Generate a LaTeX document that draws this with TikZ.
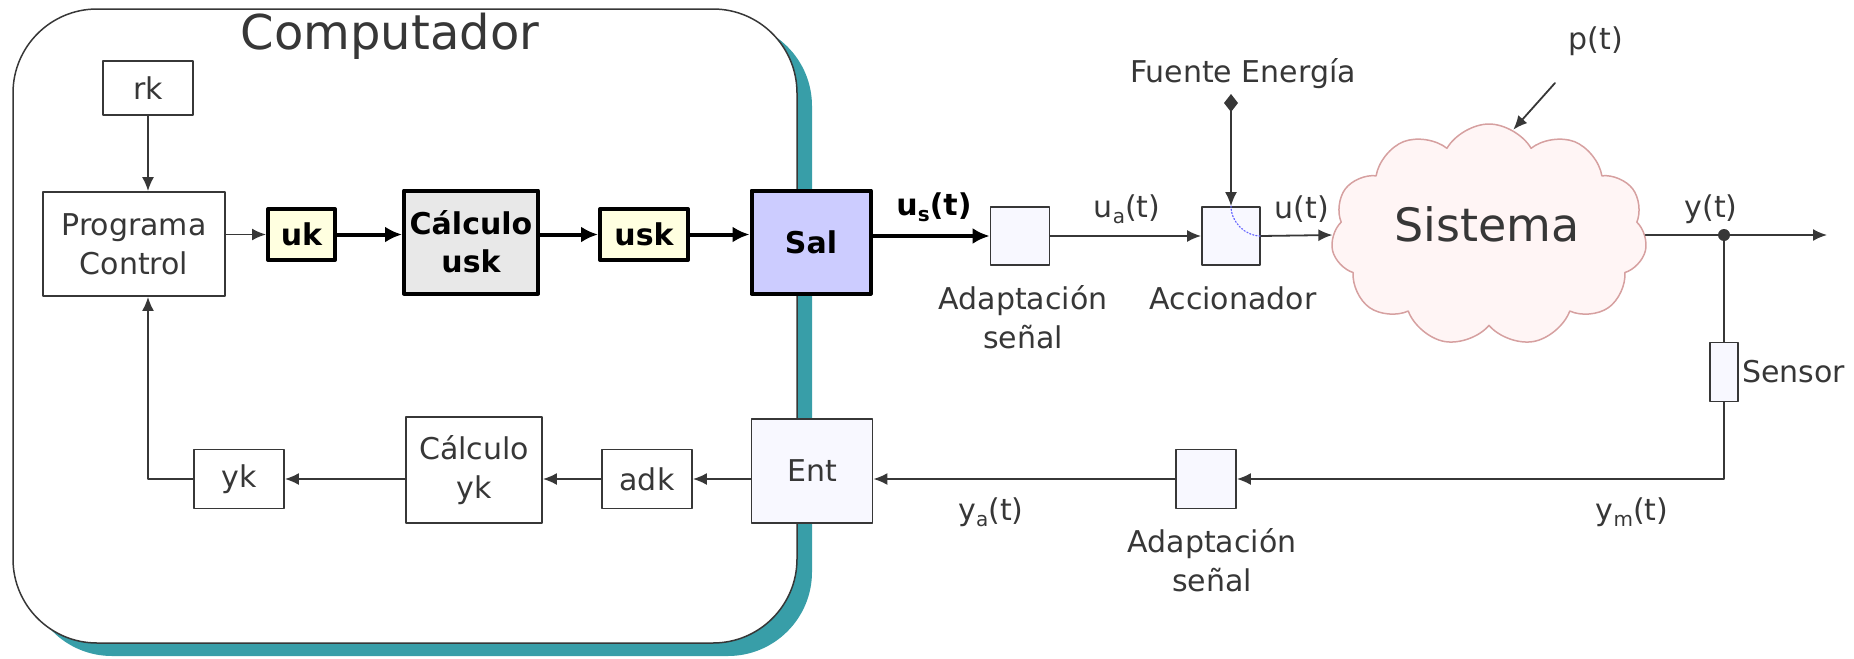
\documentclass[tikz,border=0pt]{standalone}
\usepackage{fontspec}
\setmainfont{DejaVu Sans}
\usepackage{tikz}
\usetikzlibrary{arrows.meta, positioning, shapes, shapes.symbols, calc, shadows}
\definecolor{TealShadow}{RGB}{56, 158, 168}
\definecolor{BoxYellow}{RGB}{255, 255, 224}
\definecolor{BoxGray}{RGB}{232, 232, 232}
\definecolor{BoxLavender}{RGB}{204, 204, 255}
\definecolor{BoxPale}{RGB}{248, 248, 255}
\definecolor{CloudFill}{RGB}{255, 245, 245}
\definecolor{CloudLine}{RGB}{214, 160, 160}
\definecolor{LineGray}{RGB}{55, 55, 55}
\newcommand{\lowidx}[1]{\raisebox{-0.35ex}{\fontsize{10}{10}\selectfont #1}}
\tikzset{every node/.style={font=\fontsize{15}{19.5}\selectfont, text=LineGray}, every path/.style={line cap=round, line join=round}, >={Latex[length=7pt, width=6pt]}}
\tikzset{
    compbox/.style={draw=LineGray, line width=0.75pt, fill=white, rounded corners=42pt,
        drop shadow={shadow xshift=7.5pt, shadow yshift=-6.5pt, fill=TealShadow, opacity=1}},
    thinbox/.style={draw=LineGray, line width=0.9pt, fill=white, align=center, inner sep=0pt},
    palebox/.style={thinbox, fill=BoxPale},
    boldbox/.style={draw=black, line width=2pt, align=center, inner sep=0pt, text=black, font=\fontsize{15}{19}\selectfont\bfseries},
    lbl/.style={inner sep=0pt, align=center},
    thinline/.style={draw=LineGray, line width=0.9pt},
    thinarrow/.style={thinline, ->},
    thickarrow/.style={draw=black, line width=2pt, -{Latex[length=8.5pt, width=8pt]}}
}

\begin{document}
\begin{tikzpicture}[x=0.5pt, y=-0.5pt]
    \useasboundingbox (0,0) rectangle (1854,659);
    % computador
    \node [compbox, minimum width=392pt, minimum height=317pt] (comp) at (405,326) {};
    \node [font=\fontsize{24}{28}\selectfont] (comptitle) at (390,36) {Computador};
    \node [thinbox, minimum width=45pt, minimum height=27pt] (rk) at (148,88) {rk};
    \node [thinbox, minimum width=91pt, minimum height=52pt] (prog) at (134,244) {Programa\\Control};
    \node [boldbox, fill=BoxYellow, minimum width=33.5pt, minimum height=25.5pt] (uk) at (301.5,234.5) {uk};
    \node [boldbox, fill=BoxGray, minimum width=67pt, minimum height=51.5pt] (calusk) at (471,242) {Cálculo\\usk};
    \node [boldbox, fill=BoxYellow, minimum width=44pt, minimum height=25.5pt] (usk) at (644,234.5) {usk};
    \node [boldbox, fill=BoxLavender, minimum width=59.5pt, minimum height=51.5pt] (sal) at (811,242) {Sal};
    \node [palebox, minimum width=60.5pt, minimum height=52pt] (ent) at (812,471) {Ent};
    \node [thinbox, minimum width=45pt, minimum height=29.5pt] (adk) at (647,479) {adk};
    \node [thinbox, minimum width=68pt, minimum height=53pt] (calyk) at (474,470) {Cálculo\\yk};
    \node [thinbox, minimum width=45pt, minimum height=29.5pt] (yk) at (239,479) {yk};
    % proceso
    \node [palebox, minimum width=29.5pt, minimum height=29pt] (adt) at (1020,236) {};
    \node [lbl] (adtlbl) at (1023,317) {Adaptación\\señal};
    \node [palebox, minimum width=29pt, minimum height=29pt] (acc) at (1231,236) {};
    \node [lbl] (acclbl) at (1233,298) {Accionador};
    \node [lbl] (fuente) at (1243,74) {Fuente Energía};
    \coordinate (fe) at (1231,94);
    \node [cloud, cloud puffs=11, cloud puff arc=120, cloud ignores aspect, draw=CloudLine, line width=0.75pt, fill=CloudFill,
        minimum width=158pt, minimum height=111pt, inner sep=0pt] (sist) at (1489,235) {};
    \node [lbl, font=\fontsize{23}{27}\selectfont] (sistlbl) at (1487,224) {Sistema};
    \node [lbl] (pt) at (1596,41) {p(t)};
    \coordinate (ptend) at (1555,83);
    \coordinate (ydot) at (1724,235);
    \coordinate (yout) at (1827,235);
    \node [palebox, minimum width=14pt, minimum height=29.5pt] (sensor) at (1724,372) {};
    \node [lbl, right=1.5pt of sensor] (sensorlbl) {Sensor};
    \node [palebox, minimum width=30pt, minimum height=29.5pt] (adb) at (1206,479) {};
    \node [lbl] (adblbl) at (1212,560) {Adaptación\\señal};
    % etiquetas de senal
    \node [lbl, text=black, font=\fontsize{15}{19}\selectfont\bfseries] (lblus) at (934,207) {u\lowidx{\bfseries s}(t)};
    \node [lbl] (lblua) at (1127,209) {u\lowidx{a}(t)};
    \node [lbl] (lblu) at (1302,209) {u(t)};
    \node [lbl] (lbly) at (1711,209) {y(t)};
    \node [lbl] (lblym) at (1632,512) {y\lowidx{m}(t)};
    \node [lbl] (lblya) at (991,512) {y\lowidx{a}(t)};
    % conexiones
    \draw [thinarrow] (rk.south) -- (rk.south |- prog.north);
    \draw [thinarrow] (uk.west -| prog.east) -- (uk.west);
    \draw [thickarrow] (uk.east) -- (uk.east -| calusk.west);
    \draw [thickarrow] (usk.east -| calusk.east) -- (usk.west);
    \draw [thickarrow] (usk.east) -- (usk.east -| sal.west);
    \draw [thickarrow] (sal.east |- adt.west) -- (adt.west);
    \draw [thinarrow] (adt.east) -- (acc.west);
    \draw [thinline, {Diamond[length=9pt, width=7pt]}-{Latex[length=7pt, width=6pt]}] (fe) -- (acc.north);
    \draw [draw=blue!60, line width=0.6pt, densely dotted] (acc.north) .. controls +(0,16) and +(-16,0) .. (acc.east);
    \draw [thinarrow] (acc.east) -- (sist.west);
    \draw [thinarrow] (ptend) -- (sist.77);
    \draw [thinline] (sist.east) -- (ydot);
    \draw [thinarrow] (ydot) -- (yout);
    \fill [LineGray] (ydot) circle (3pt);
    \draw [thinline] (ydot) -- (sensor.north);
    \draw [thinarrow] (sensor.south) |- (adb.east);
    \draw [thinarrow] (adb.west) -- (adb.west -| ent.east);
    \draw [thinarrow] (ent.west |- adk.east) -- (adk.east);
    \draw [thinarrow] (adk.west) -- (adk.west -| calyk.east);
    \draw [thinarrow] (yk.east -| calyk.west) -- (yk.east);
    \draw [thinarrow] (yk.west) -| (rk.south |- prog.south);
\end{tikzpicture}
\end{document}
